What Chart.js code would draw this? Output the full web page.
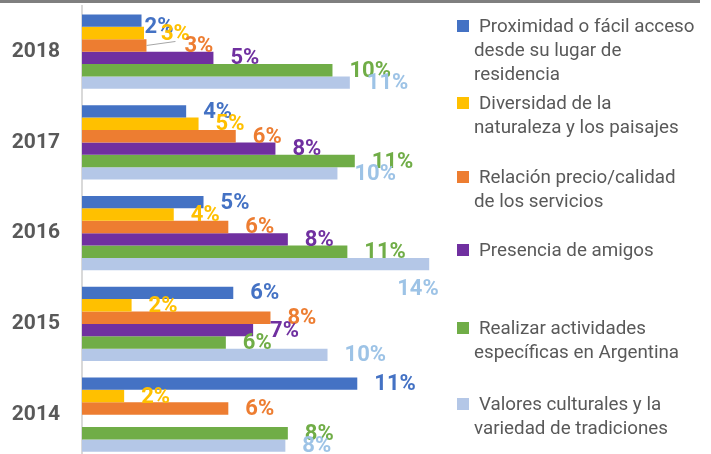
<!DOCTYPE html>
<html>
<head>
<meta charset="utf-8">
<script src="https://cdn.jsdelivr.net/npm/chart.js@4.4.1/dist/chart.umd.min.js"></script>
<style>
  body { margin: 0; width: 711px; height: 454px; overflow: hidden; position: relative; background: #fff; font-family: Roboto, sans-serif; }
  #topbar { position: absolute; left: 0; top: 0; width: 700px; height: 3px; background: #7f7f7f; z-index: 2; }
  #wrap { position: absolute; left: 0; top: 0; width: 460px; height: 462px; }
  #legend { position: absolute; left: 457px; top: 0; width: 254px; height: 454px; }
  .item { position: absolute; left: 0; }
  .item .box { position: absolute; left: 0; top: 6px; width: 12px; height: 12px; }
  .item .txt { position: absolute; left: 17px; top: 0; font-size: 18.8px; line-height: 24px; color: #595959; white-space: nowrap; }
  .item .txt span:first-child { padding-left: 5px; }
</style>
</head>
<body>
<div id="topbar"></div>
<div id="wrap"><canvas id="chart" width="460" height="462"></canvas></div>
<div id="legend"></div>
<script>
// years, top to bottom
const years = ['2018', '2017', '2016', '2015', '2014'];

// % per motive, same order as years
const proximidad  = [2.4, 4.2, 4.9, 6.1, 11.1];
const diversidad  = [2.5, 4.7, 3.7, 2.0, 1.7];
const precio      = [2.6, 6.2, 5.9, 7.6, 5.9];
const amigos      = [5.3, 7.8, 8.3, 6.9, null];
const actividades = [10.1, 11.0, 10.7, 5.8, 8.3];
const culturales  = [10.8, 10.3, 14.0, 9.9, 8.2];

const seriesNames = [
    ['Proximidad o fácil acceso', 'desde su lugar de', 'residencia'],
    ['Diversidad de la', 'naturaleza y los paisajes'],
    ['Relación precio/calidad', 'de los servicios'],
    ['Presencia de amigos'],
    ['Realizar actividades', 'específicas en Argentina'],
    ['Valores culturales y la', 'variedad de tradiciones']
];

const barColors   = ['#4472C4', '#FFC000', '#ED7D31', '#7030A0', '#70AD47', '#B4C7E7'];
const labelColors = ['#4472C4', '#FFC000', '#ED7D31', '#7030A0', '#70AD47', '#9DC3E6'];
const legendTops  = [14, 91, 165, 238, 316, 392];

// labels that were dragged by hand in the original ("dataset-index")
const labelNudge = {
    '0-0': { dx: -14, dy: 6 },
    '2-0': { dx: 21, dy: 0, leader: true },
    '5-2': { dx: -49, dy: 24 }
};

const seriesData = [proximidad, diversidad, precio, amigos, actividades, culturales];

// draws the value labels next to each bar
const valueLabels = {
    id: 'valueLabels',
    afterDatasetsDraw(chart) {
        const ctx = chart.ctx;
        ctx.save();
        ctx.font = 'bold 22px Roboto';
        ctx.textAlign = 'left';
        ctx.textBaseline = 'middle';
        chart.data.datasets.forEach((ds, di) => {
            const meta = chart.getDatasetMeta(di);
            meta.data.forEach((bar, i) => {
                const v = ds.data[i];
                if (v === null || v === undefined) return;
                const n = labelNudge[di + '-' + i] || { dx: 0, dy: 0 };
                const x = bar.x + 17 + n.dx;
                const y = bar.y + 1 + n.dy;
                if (n.leader) {
                    ctx.strokeStyle = '#a6a6a6';
                    ctx.lineWidth = 1;
                    ctx.beginPath();
                    ctx.moveTo(bar.x, bar.y);
                    ctx.lineTo(x - 9, bar.y - 4);
                    ctx.stroke();
                }
                ctx.fillStyle = labelColors[di];
                ctx.fillText(Math.round(v) + '%', x, y);
            });
        });
        ctx.restore();
    }
};

new Chart(document.getElementById('chart'), {
    type: 'bar',
    data: {
        labels: years,
        datasets: seriesData.map((d, i) => ({
            label: seriesNames[i].join(' '),
            data: d,
            backgroundColor: barColors[i],
            borderWidth: 0,
            categoryPercentage: 0.82,
            barPercentage: 1
        }))
    },
    options: {
        indexAxis: 'y',
        responsive: false,
        animation: false,
        layout: { padding: { top: 6.3, bottom: 2, left: 0, right: 6 } },
        plugins: { legend: { display: false }, tooltip: { enabled: false } },
        scales: {
            x: { display: false, min: 0, max: 15 },
            y: {
                afterFit(scale) {
                    scale.width = 82;
                    scale.paddingTop = 0;
                    scale.paddingBottom = 0;
                },
                grid: { display: false, drawTicks: false },
                border: { display: true, color: '#d9d9d9', width: 2 },
                ticks: { color: '#595959', padding: 22, font: { family: 'Roboto', size: 21, weight: 'bold' } }
            }
        }
    },
    plugins: [valueLabels]
});

// legend on the right
const legend = document.getElementById('legend');
seriesNames.forEach((lines, i) => {
    const item = document.createElement('div');
    item.className = 'item';
    item.style.top = legendTops[i] + 'px';
    item.innerHTML = '<div class="box" style="background:' + barColors[i] + '"></div>' +
        '<div class="txt">' + lines.map(l => '<span>' + l + '</span>').join('<br>') + '</div>';
    legend.appendChild(item);
});
</script>
</body>
</html>
